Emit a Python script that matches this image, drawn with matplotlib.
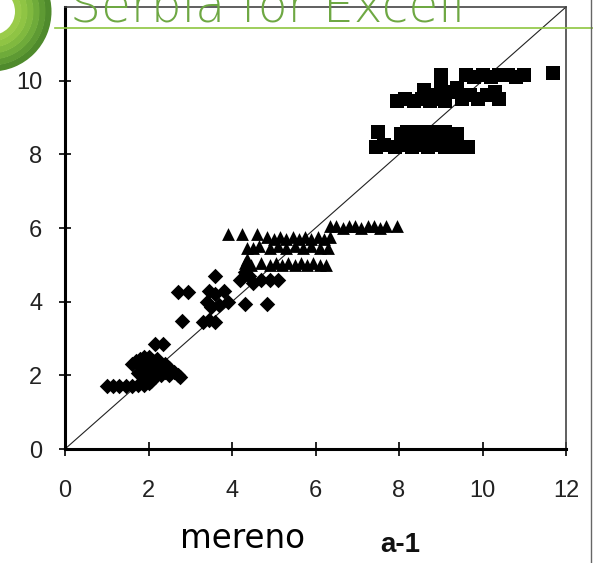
import matplotlib.pyplot as plt
from matplotlib.patches import Wedge

# measured (x) vs computed (y), three groups of points
diamond_x = [1.0, 1.15, 1.3, 1.45, 1.6, 1.75, 1.9, 2.0,
             1.6, 1.7, 1.8, 1.9, 2.0, 2.1, 2.2, 1.85, 2.0, 2.1, 2.2, 2.3, 2.4, 2.5,
             2.6, 2.7, 2.75, 1.9, 2.05, 2.3, 2.2, 2.4, 1.95, 2.15, 1.75, 2.5,
             2.15, 2.35, 2.8, 2.7, 2.95, 3.3, 3.45, 3.6,
             3.4, 3.6, 3.8, 3.5, 3.7, 3.9, 3.45, 3.6, 4.3, 4.85,
             4.2, 4.4, 4.5, 4.7, 4.9, 5.1, 4.3]
diamond_y = [1.7, 1.7, 1.7, 1.7, 1.72, 1.75, 1.75, 1.8,
             2.3, 2.4, 2.45, 2.5, 2.5, 2.4, 2.45, 2.2, 2.1, 2.2, 2.1, 2.2, 2.1, 2.0,
             2.1, 2.0, 1.95, 1.95, 1.85, 2.0, 2.3, 2.3, 2.3, 1.95, 2.05, 2.2,
             2.85, 2.85, 3.47, 4.25, 4.25, 3.45, 3.5, 3.45,
             4.0, 4.2, 4.3, 3.85, 3.9, 4.0, 4.3, 4.7, 3.95, 3.95,
             4.6, 4.7, 4.5, 4.6, 4.6, 4.6, 4.8]

triangle_x = [3.9, 4.25, 4.6,
              4.85, 5.0, 5.15, 5.3, 5.45, 5.6, 5.75, 5.9, 6.05, 6.2, 6.35,
              4.35, 4.5, 4.65, 4.9, 5.1, 5.3, 5.5, 5.7, 5.9, 6.1, 6.3,
              4.3, 4.45, 4.7, 4.9, 5.05, 5.2, 5.35, 5.5, 5.65, 5.8, 5.95, 6.1, 6.25,
              4.35,
              6.35, 6.5, 6.65, 6.8, 6.95, 7.1, 7.25, 7.4, 7.55, 7.7, 7.95]
triangle_y = [5.85, 5.85, 5.85,
              5.75, 5.7, 5.75, 5.7, 5.75, 5.7, 5.75, 5.7, 5.75, 5.7, 5.75,
              5.45, 5.45, 5.5, 5.45, 5.5, 5.45, 5.5, 5.45, 5.5, 5.45, 5.45,
              5.05, 5.0, 5.05, 5.0, 5.05, 5.0, 5.05, 5.0, 5.05, 5.0, 5.05, 5.0, 5.0,
              5.15,
              6.05, 6.05, 6.0, 6.05, 6.05, 6.0, 6.05, 6.05, 6.0, 6.05, 6.05]

square_x = [7.5, 8.05, 8.2, 8.35, 8.5, 8.65, 8.8, 8.95, 9.1, 9.25, 9.4,
            7.45, 7.65, 7.9, 8.1, 8.3, 8.5, 8.7, 8.9, 9.1, 9.35, 9.65,
            7.95, 8.15, 8.35, 8.55, 8.75, 8.95, 9.1, 8.6,
            9.0, 9.0, 8.8, 9.2, 9.4, 9.5, 9.7, 9.9, 10.1, 10.3, 10.4,
            9.6, 9.8, 10.0, 10.2, 10.4, 10.6, 10.8, 11.0, 11.7]
square_y = [8.6, 8.55, 8.6, 8.55, 8.6, 8.55, 8.6, 8.55, 8.6, 8.55, 8.55,
            8.2, 8.25, 8.2, 8.25, 8.2, 8.25, 8.2, 8.25, 8.2, 8.2, 8.2,
            9.45, 9.5, 9.45, 9.5, 9.45, 9.5, 9.45, 9.75,
            9.8, 10.15, 9.6, 9.7, 9.8, 9.5, 9.6, 9.5, 9.6, 9.7, 9.5,
            10.15, 10.1, 10.15, 10.1, 10.15, 10.15, 10.1, 10.15, 10.2]

axis_ticks = [0, 2, 4, 6, 8, 10, 12]
y_ticks = [0, 2, 4, 6, 8, 10]

W, H = 593, 563
fig = plt.figure(figsize=(W / 100, H / 100), dpi=100)

ax = fig.add_axes([65 / W, 1 - 449 / H, (566 - 65) / W, (449 - 7) / H])
ax.plot([0, 12], [0, 12], color="#222222", lw=0.8, zorder=1)
ax.scatter(diamond_x, diamond_y, marker="D", s=62, color="black", linewidths=0, zorder=2)
ax.scatter(triangle_x, triangle_y, marker="^", s=85, color="black", linewidths=0, zorder=2)
ax.scatter(square_x, square_y, marker="s", s=90, color="black", linewidths=0, zorder=2)

ax.set_xlim(0, 12)
ax.set_ylim(0, 12)
ax.set_xticks(axis_ticks)
ax.set_yticks(y_ticks)
ax.tick_params(axis="x", direction="inout", length=10, width=1.2, pad=17,
               labelsize=17, labelcolor="#222222")
ax.tick_params(axis="y", direction="inout", length=8.6, width=1.2, pad=12,
               labelsize=17, labelcolor="#222222")
for lab in ax.get_xticklabels() + ax.get_yticklabels():
    lab.set_family("Liberation Sans")

for side in ["left", "bottom"]:
    ax.spines[side].set_linewidth(2.2)
    ax.spines[side].set_color("black")
for side in ["top", "right"]:
    ax.spines[side].set_linewidth(1.2)
    ax.spines[side].set_color("#444444")

# slide decoration in pixel coordinates
deco = fig.add_axes([0, 0, 1, 1], zorder=5)
deco.set_xlim(0, W)
deco.set_ylim(H, 0)
deco.axis("off")
deco.patch.set_alpha(0)

ring_colors = ["#4f8a2c", "#5e9a33", "#6fab3a", "#80b93f", "#8fc444", "#9acb4a"]
outer_r, inner_r = 60, 24
step = (outer_r - inner_r) / len(ring_colors)
for i, c in enumerate(ring_colors):
    r = outer_r - i * step
    deco.add_patch(Wedge((-8.5, 11.5), r, 0, 360, width=step + 0.5, color=c, lw=0))

deco.plot([55, W], [27.5, 27.5], color="#8dc63f", lw=1.2)
deco.plot([591, 591], [0, H], color="#666666", lw=1.0)

deco.text(70, 21, "Serbia for Excell", fontsize=35, color="#6ea843",
          family="DejaVu Sans", fontweight="light", ha="left", va="baseline")
deco.text(180, 548, "mereno", fontsize=23.5, color="black",
          family="DejaVu Sans", ha="left", va="baseline")
deco.text(380, 552, "a-1", fontsize=20, color="#111111", fontweight="bold",
          family="Liberation Sans", ha="left", va="baseline")

fig.savefig("out.png", dpi=100)
